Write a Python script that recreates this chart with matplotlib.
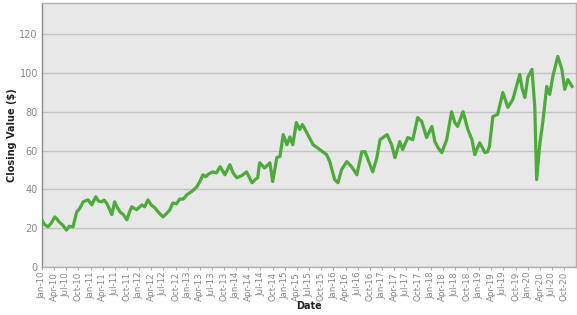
import matplotlib
matplotlib.use("Agg")
import matplotlib.pyplot as plt
import matplotlib.dates as mdates
import pandas as pd

dates = [
    "2010-01-01", "2010-01-18", "2010-02-15", "2010-03-10", "2010-04-07", "2010-04-25",
    "2010-05-13", "2010-06-07", "2010-07-04", "2010-07-25", "2010-08-22", "2010-09-19",
    "2010-10-10", "2010-11-07", "2010-12-13", "2011-01-10", "2011-02-09", "2011-03-01",
    "2011-03-25", "2011-04-13", "2011-05-01", "2011-05-22", "2011-06-10", "2011-07-01",
    "2011-07-19", "2011-08-10", "2011-09-04", "2011-10-01", "2011-10-19", "2011-11-07",
    "2011-12-13", "2012-01-22", "2012-02-12", "2012-03-07", "2012-04-01", "2012-04-28",
    "2012-05-28", "2012-06-28", "2012-07-25", "2012-08-19", "2012-09-10", "2012-10-07",
    "2012-11-01", "2012-11-28", "2012-12-25", "2013-02-01", "2013-03-10", "2013-04-01",
    "2013-04-25", "2013-05-16", "2013-06-07", "2013-07-07", "2013-08-04", "2013-09-01",
    "2013-10-07", "2013-11-13", "2013-12-07", "2014-01-04", "2014-02-09", "2014-03-19",
    "2014-04-28", "2014-05-22", "2014-06-10", "2014-06-25", "2014-08-01", "2014-09-10",
    "2014-10-01", "2014-11-01", "2014-11-25", "2014-12-19", "2015-01-16", "2015-02-07",
    "2015-03-01", "2015-03-28", "2015-04-22", "2015-05-13", "2015-06-22", "2015-08-01",
    "2015-09-19", "2015-11-10", "2015-12-04", "2016-01-10", "2016-02-04", "2016-03-01",
    "2016-04-10", "2016-05-16", "2016-06-25", "2016-08-01", "2016-08-25", "2016-10-01",
    "2016-10-22", "2016-11-22", "2016-12-16", "2017-02-07", "2017-03-13", "2017-04-07",
    "2017-05-13", "2017-06-04", "2017-07-13", "2017-08-19", "2017-09-25", "2017-10-25",
    "2017-12-01", "2018-01-10", "2018-02-01", "2018-02-25", "2018-03-25", "2018-05-01",
    "2018-06-07", "2018-07-01", "2018-07-22", "2018-09-01", "2018-10-07", "2018-11-07",
    "2018-11-28", "2019-01-04", "2019-02-13", "2019-03-04", "2019-03-18", "2019-04-13",
    "2019-05-19", "2019-06-27", "2019-08-04", "2019-09-10", "2019-11-01", "2019-11-19",
    "2019-12-10", "2020-01-01", "2020-02-01", "2020-02-22", "2020-03-07", "2020-04-01",
    "2020-04-22", "2020-05-22", "2020-06-13", "2020-07-07", "2020-08-13", "2020-09-13",
    "2020-10-04", "2020-10-28", "2020-11-28",
]

closing = [
    24.3, 22.0, 20.7, 22.5, 25.8, 24.5,
    23.0, 21.5, 19.0, 21.0, 20.7, 28.4,
    30.0, 33.6, 34.6, 32.0, 36.2, 34.0,
    33.6, 34.5, 33.0, 30.0, 27.0, 33.6,
    31.0, 28.4, 27.0, 24.3, 28.0, 31.0,
    29.5, 32.0, 31.0, 34.6, 32.0, 30.5,
    28.0, 25.8, 27.5, 29.5, 33.0, 32.5,
    35.0, 35.0, 37.2, 39.0, 41.3, 44.0,
    47.5, 46.5, 48.0, 49.0, 48.5, 51.7,
    47.5, 52.7, 48.5, 46.0, 47.0, 49.0,
    43.4, 45.0, 46.0, 53.7, 51.0, 53.7,
    44.0, 56.3, 57.0, 68.2, 63.0, 67.0,
    63.0, 74.4, 70.8, 73.4, 68.2, 63.0,
    60.5, 57.9, 54.3, 45.0, 43.4, 50.0,
    54.3, 51.7, 47.5, 59.4, 59.4, 52.7,
    49.0, 56.3, 65.6, 68.2, 63.0, 56.3,
    64.6, 60.5, 66.7, 65.6, 77.0, 75.0,
    66.7, 72.4, 64.6, 61.5, 58.9, 65.6,
    80.0, 74.4, 72.4, 80.0, 70.8, 65.6,
    57.9, 64.0, 58.9, 59.4, 62.0, 77.5,
    78.6, 89.9, 82.2, 86.3, 99.2, 92.0,
    87.3, 97.7, 101.8, 82.7, 45.0, 64.0,
    74.4, 93.0, 88.9, 98.2, 108.5, 101.8,
    91.5, 96.6, 93.0,
]

y_ticks = [0, 20, 40, 60, 80, 100, 120]
x_label = "Date"
y_label = "Closing Value ($)"

x = pd.to_datetime(dates)

fig = plt.figure(figsize=(5.77, 3.15), dpi=100)
ax = fig.add_axes([42 / 577, 48 / 315, 534 / 577, 264 / 315])
ax.set_facecolor("#E8E8E8")

ax.plot(x, closing, color="#4DAA3B", linewidth=2.3, solid_joinstyle="round", zorder=3)

ax.set_ylim(0, 136)
ax.set_yticks(y_ticks)
ax.set_xlim(pd.Timestamp("2010-01-01"), pd.Timestamp("2020-12-28"))

ax.xaxis.set_major_locator(mdates.MonthLocator(bymonth=[1, 4, 7, 10]))
ax.xaxis.set_major_formatter(mdates.DateFormatter("%b-%y"))

ax.grid(axis="y", color="#C4C4C4", linewidth=1.0, zorder=0)
ax.grid(axis="x", visible=False)
ax.set_axisbelow(True)

for side in ["top", "right", "bottom"]:
    ax.spines[side].set_color("#B0B0B0")
    ax.spines[side].set_linewidth(1.0)
ax.spines["left"].set_color("#8A8A8A")
ax.spines["left"].set_linewidth(1.0)

ax.tick_params(axis="y", length=0, pad=3, labelsize=7, labelcolor="#888888")
ax.tick_params(axis="x", length=2, color="#B0B0B0", pad=1.5, labelsize=6.3,
               labelcolor="#888888", labelrotation=90)

ax.set_xlabel(x_label, fontsize=7, fontweight="bold", color="#222222")
ax.xaxis.set_label_coords(0.5, -0.148)
ax.xaxis.label.set_va("center")
ax.set_ylabel(y_label, fontsize=7, fontweight="bold", color="#222222")
ax.yaxis.set_label_coords(-0.056, 0.5)
ax.yaxis.label.set_va("center")

fig.savefig("out.png", dpi=100)
